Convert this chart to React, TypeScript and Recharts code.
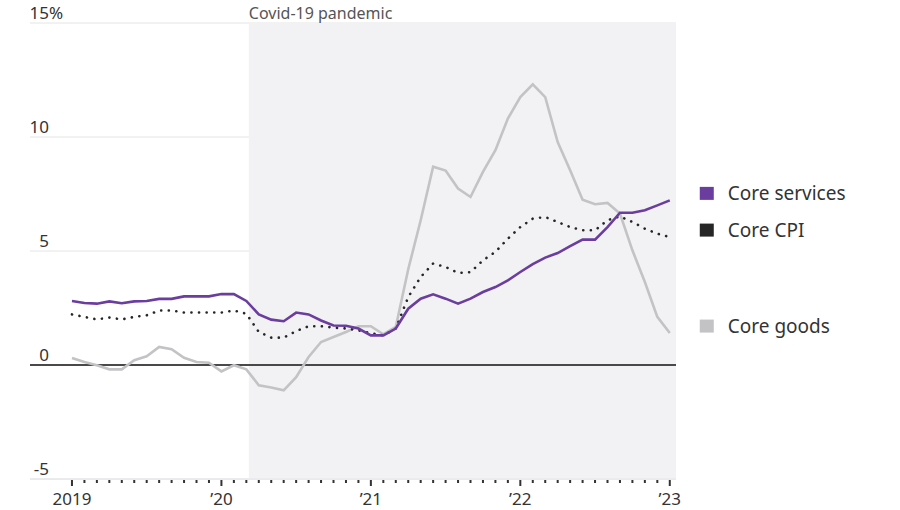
import {
  LineChart,
  Line,
  XAxis,
  YAxis,
  CartesianGrid,
  ReferenceArea,
  ReferenceLine,
} from 'recharts';

// Monthly, Jan 2019 – Jan 2023, year-over-year % change
const months = [
  '2019-01', '2019-02', '2019-03', '2019-04', '2019-05', '2019-06', '2019-07', '2019-08', '2019-09', '2019-10', '2019-11', '2019-12',
  '2020-01', '2020-02', '2020-03', '2020-04', '2020-05', '2020-06', '2020-07', '2020-08', '2020-09', '2020-10', '2020-11', '2020-12',
  '2021-01', '2021-02', '2021-03', '2021-04', '2021-05', '2021-06', '2021-07', '2021-08', '2021-09', '2021-10', '2021-11', '2021-12',
  '2022-01', '2022-02', '2022-03', '2022-04', '2022-05', '2022-06', '2022-07', '2022-08', '2022-09', '2022-10', '2022-11', '2022-12',
  '2023-01',
];

const coreServices = [
  2.81, 2.72, 2.69, 2.79, 2.71, 2.79, 2.81, 2.9, 2.9, 3.01, 3.01, 3.01,
  3.11, 3.11, 2.81, 2.22, 1.99, 1.92, 2.3, 2.22, 1.95, 1.73, 1.72, 1.6,
  1.3, 1.3, 1.6, 2.47, 2.91, 3.1, 2.91, 2.69, 2.91, 3.2, 3.42, 3.71,
  4.08, 4.42, 4.71, 4.91, 5.21, 5.5, 5.5, 6.05, 6.68, 6.68, 6.79, 7.0,
  7.22,
];

const coreCpi = [
  2.22, 2.11, 2.0, 2.08, 2.0, 2.11, 2.18, 2.39, 2.39, 2.3, 2.3, 2.3,
  2.3, 2.39, 2.25, 1.45, 1.2, 1.2, 1.49, 1.7, 1.7, 1.64, 1.6, 1.52,
  1.4, 1.3, 1.6, 2.98, 3.86, 4.45, 4.3, 4.04, 4.07, 4.59, 4.96, 5.54,
  6.05, 6.42, 6.49, 6.27, 6.05, 5.91, 5.91, 6.35, 6.52, 6.27, 5.98, 5.76,
  5.61,
];

const coreGoods = [
  0.31, 0.13, -0.01, -0.19, -0.19, 0.21, 0.38, 0.79, 0.69, 0.32, 0.13, 0.1,
  -0.28, -0.01, -0.19, -0.89, -0.99, -1.11, -0.53, 0.35, 1.01, 1.23, 1.45, 1.7,
  1.7, 1.35, 1.67, 4.2, 6.35, 8.7, 8.53, 7.74, 7.37, 8.47, 9.42, 10.81,
  11.75, 12.31, 11.75, 9.78, 8.54, 7.25, 7.05, 7.11, 6.64, 5.03, 3.64, 2.11,
  1.4,
];

const yTicks = [-5, 0, 5, 10, 15];
const yearLabels = ['2019', '\u201920', '\u201921', '\u201922', '\u201923'];
const covidStart = 14.2; // months since Jan 2019
const xDomain: [number, number] = [-3.37, 48.5];

const data = months.map((month, i) => ({
  m: i,
  month,
  services: coreServices[i],
  cpi: coreCpi[i],
  goods: coreGoods[i],
}));

const lastIndex = months.length - 1;
const FONT = '"Noto Sans", "Open Sans", sans-serif';
const PURPLE = '#6b3d9e';
const GREY = '#c3c3c6';
const DARK = '#262626';

function YTick({ x, y, payload }: any) {
  const v = payload.value;
  return (
    <g>
      <text x={x + 19} y={y - 4} textAnchor="end" fontSize={17} fill="#333" fontFamily={FONT}>
        {v}
      </text>
      {v === 15 && (
        <text x={x + 19} y={y - 4} textAnchor="start" fontSize={17} fill="#333" fontFamily={FONT}>
          %
        </text>
      )}
    </g>
  );
}

function XTick({ x, y, payload }: any) {
  const m = payload.value as number;
  const major = m % 12 === 0;
  return (
    <g>
      <rect x={x - 1} y={y + 1} width={2} height={major ? 6 : 3} fill="#333" />
      {major && (
        <text x={x} y={y + 26} textAnchor="middle" fontSize={17} fill="#333" fontFamily={FONT}>
          {yearLabels[m / 12]}
        </text>
      )}
    </g>
  );
}

function EndLabel({ x, y, index, name, color }: any) {
  if (index !== lastIndex) return null;
  const cy = y - 7;
  return (
    <g>
      <rect x={x + 30} y={cy - 6.5} width={14} height={13} fill={color} />
      <text x={x + 58} y={cy} dominantBaseline="central" fontSize={19} fill="#333" fontFamily={FONT}>
        {name}
      </text>
    </g>
  );
}

function CovidLabel({ viewBox }: any) {
  return (
    <text x={viewBox.x} y={viewBox.y - 4} fontSize={16} fill="#555" fontFamily={FONT}>
      Covid-19 pandemic
    </text>
  );
}

export default function App() {
  return (
    <div style={{ position: 'absolute', left: 0, top: 0, background: '#fff' }}>
      <LineChart width={900} height={510} data={data} margin={{ top: 23, right: 224, left: 10, bottom: 0 }}>
        <ReferenceArea
          x1={covidStart}
          x2={xDomain[1]}
          y1={-5}
          y2={15}
          fill="#f2f2f5"
          fillOpacity={1}
          stroke="none"
          label={<CovidLabel />}
        />
        <CartesianGrid vertical={false} stroke="#e4e4e6" />
        <XAxis
          dataKey="m"
          type="number"
          domain={xDomain}
          ticks={data.map((d) => d.m)}
          interval={0}
          tick={<XTick />}
          tickLine={false}
          tickSize={0}
          tickMargin={0}
          axisLine={{ stroke: '#e4e4e6' }}
          height={31}
          allowDataOverflow
        />
        <YAxis
          type="number"
          domain={[-5, 15]}
          ticks={yTicks}
          interval={0}
          tick={<YTick />}
          tickLine={false}
          tickSize={0}
          tickMargin={0}
          axisLine={false}
          width={20}
        />
        <ReferenceLine y={0} stroke="#111" strokeWidth={1.5} />
        <Line
          type="linear"
          dataKey="goods"
          stroke={GREY}
          strokeWidth={2.6}
          dot={false}
          activeDot={false}
          isAnimationActive={false}
          label={<EndLabel name="Core goods" color={GREY} />}
        />
        <Line
          type="linear"
          dataKey="cpi"
          stroke={DARK}
          strokeWidth={2.6}
          strokeDasharray="0.1 7.5"
          strokeLinecap="round"
          dot={false}
          activeDot={false}
          isAnimationActive={false}
          label={<EndLabel name="Core CPI" color={DARK} />}
        />
        <Line
          type="linear"
          dataKey="services"
          stroke={PURPLE}
          strokeWidth={2.6}
          dot={false}
          activeDot={false}
          isAnimationActive={false}
          label={<EndLabel name="Core services" color={PURPLE} />}
        />
      </LineChart>
    </div>
  );
}
